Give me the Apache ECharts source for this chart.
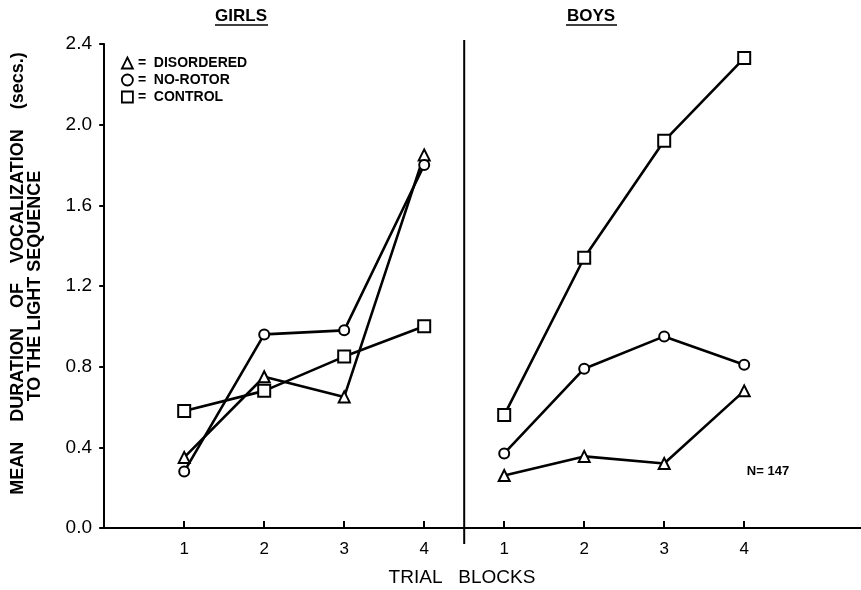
<!DOCTYPE html>
<html>
<head>
<meta charset="utf-8">
<script src="https://cdn.jsdelivr.net/npm/echarts@6/dist/echarts.min.js"></script>
<style>html,body{margin:0;padding:0;background:#fff}#c{width:861px;height:590px}</style>
</head>
<body>
<div id="c"></div>
<script>
const blocks = ['1', '2', '3', '4'];
const yTickLabels = ['0.0', '0.4', '0.8', '1.2', '1.6', '2.0', '2.4'];
const groups = ['DISORDERED', 'NO-ROTOR', 'CONTROL'];
const girlsDisordered = [0.35, 0.75, 0.65, 1.85];
const girlsNoRotor = [0.28, 0.96, 0.98, 1.80];
const girlsControl = [0.58, 0.68, 0.85, 1.00];
const boysDisordered = [0.26, 0.355, 0.32, 0.68];
const boysNoRotor = [0.37, 0.79, 0.95, 0.81];
const boysControl = [0.56, 1.34, 1.92, 2.33];

const GIRLS_OFFSET = 0, BOYS_OFFSET = 4;
const FONT = 'Liberation Sans, Arial, sans-serif';
const symbols = { 'DISORDERED': 'emptyTriangle', 'NO-ROTOR': 'emptyCircle', 'CONTROL': 'emptyRect' };
const sizes = { 'DISORDERED': 11, 'NO-ROTOR': 10, 'CONTROL': 12 };

function mk(name, vals, offset) {
  return {
    type: 'line', name: name,
    data: blocks.map((b, i) => [Number(b) + offset, vals[i]]),
    symbol: symbols[name], symbolSize: sizes[name],
    lineStyle: { color: '#000', width: 2.6 },
    itemStyle: { color: '#000', borderColor: '#000', borderWidth: 2 },
    z: 3
  };
}

const chart = echarts.init(document.getElementById('c'));
const option = {
  backgroundColor: '#fff',
  animation: false,
  textStyle: { fontFamily: FONT },
  grid: { left: 101, right: 0, top: 44, bottom: 62, containLabel: false, outerBoundsMode: 'none' },
  legend: {
    orient: 'vertical', left: 116, top: 51, itemGap: 3,
    itemWidth: 11, itemHeight: 11,
    data: [
      { name: 'DISORDERED', icon: 'triangle' },
      { name: 'NO-ROTOR', icon: 'circle' },
      { name: 'CONTROL', icon: 'rect' }
    ],
    lineStyle: { opacity: 0 },
    itemStyle: { color: '#fff', borderColor: '#000', borderWidth: 1.8 },
    formatter: n => '=  ' + n,
    textStyle: { fontFamily: FONT, fontWeight: 'bold', fontSize: 14, color: '#000' }
  },
  xAxis: {
    type: 'value', min: -0.04, max: 9.46,
    name: 'TRIAL   BLOCKS', nameLocation: 'middle', nameGap: 40,
    nameTextStyle: { fontFamily: FONT, fontSize: 19, color: '#000', padding: [0, 38, 0, 0] },
    axisLine: { lineStyle: { color: '#000', width: 2 } },
    axisTick: { inside: true, length: 7, lineStyle: { color: '#000', width: 2 }, customValues: [1, 2, 3, 4, 5, 6, 7, 8] },
    axisLabel: {
      customValues: [1, 2, 3, 4, 5, 6, 7, 8], margin: 13,
      formatter: v => blocks[(v > 4 ? v - BOYS_OFFSET : v - GIRLS_OFFSET) - 1],
      fontFamily: FONT, fontSize: 17, color: '#000'
    },
    splitLine: { show: false }
  },
  yAxis: {
    type: 'value', min: 0, max: 2.4, interval: 0.4,
    name: '     MEAN    DURATION    OF    VOCALIZATION    (secs.)\nTO THE LIGHT SEQUENCE',
    nameLocation: 'middle', nameRotate: 90, nameGap: 57,
    nameTextStyle: { fontFamily: FONT, fontWeight: 'bold', fontSize: 18, color: '#000', lineHeight: 17 },
    axisLine: { show: true, lineStyle: { color: '#000', width: 2 } },
    axisTick: { show: true, length: 5, lineStyle: { color: '#000', width: 2 } },
    axisLabel: {
      margin: 9, fontFamily: FONT, fontSize: 19, color: '#000',
      formatter: v => yTickLabels[Math.round(v / 0.4)]
    },
    splitLine: { show: false }
  },
  series: [
    mk('DISORDERED', girlsDisordered, GIRLS_OFFSET),
    mk('NO-ROTOR', girlsNoRotor, GIRLS_OFFSET),
    mk('CONTROL', girlsControl, GIRLS_OFFSET),
    mk('DISORDERED', boysDisordered, BOYS_OFFSET),
    mk('NO-ROTOR', boysNoRotor, BOYS_OFFSET),
    mk('CONTROL', boysControl, BOYS_OFFSET)
  ]
};
chart.setOption(option);

const pTop = chart.convertToPixel({ gridIndex: 0 }, [4.5, 2.4]);
const pBot = chart.convertToPixel({ gridIndex: 0 }, [4.5, 0]);
chart.setOption({
  graphic: [
    { type: 'line', shape: { x1: pTop[0], y1: pTop[1] - 4, x2: pBot[0], y2: pBot[1] + 16 }, style: { stroke: '#000', lineWidth: 2 } },
    { type: 'text', x: 241, y: 16, style: { text: 'GIRLS', font: 'bold 17px ' + FONT, fill: '#000', align: 'center', verticalAlign: 'middle' } },
    { type: 'line', shape: { x1: 215, y1: 25, x2: 268, y2: 25 }, style: { stroke: '#000', lineWidth: 1.5 } },
    { type: 'text', x: 591, y: 16, style: { text: 'BOYS', font: 'bold 17px ' + FONT, fill: '#000', align: 'center', verticalAlign: 'middle' } },
    { type: 'line', shape: { x1: 566, y1: 25, x2: 617, y2: 25 }, style: { stroke: '#000', lineWidth: 1.5 } },
    { type: 'text', x: 768, y: 471, style: { text: 'N= 147', font: 'bold 13px ' + FONT, fill: '#000', align: 'center', verticalAlign: 'middle' } }
  ]
});
</script>
</body>
</html>
